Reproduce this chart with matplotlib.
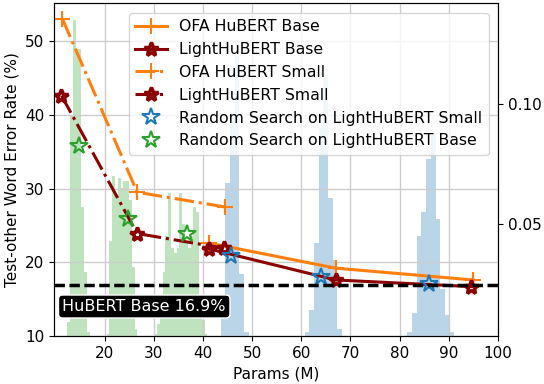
"""
Word error rate vs params for OFA / LightHuBERT supernets, with random search histograms.
"""

import matplotlib

matplotlib.use("Agg")
import matplotlib.pyplot as plt
import numpy as np

# subnet results (params in M, test-other WER in %)
ofa_base_params = [41.3, 67.0, 95.0]
ofa_base_wer = [22.6, 19.2, 17.6]
light_base_params = [41.3, 67.0, 94.6]
light_base_wer = [21.8, 17.6, 16.7]
ofa_small_params = [11.4, 26.6, 44.5]
ofa_small_wer = [53.0, 29.5, 27.5]
light_small_params = [11.2, 26.6, 44.3]
light_small_wer = [42.6, 23.9, 21.9]

# random search best subnets
rs_small_params = [45.7, 64.1, 86.0]
rs_small_wer = [20.9, 18.0, 17.1]
rs_base_params = [14.8, 24.8, 36.8]
rs_base_wer = [35.8, 25.9, 23.8]

hubert_base_wer = 16.9

# random search param histograms (density, 50 bins each)
green_range = (12.38, 40.88)
green_density = [
    0.009, 0.095, 0.135, 0.123, 0.123, 0.057, 0.030, 0.005,
    0, 0, 0, 0, 0, 0,
    0.004, 0.043, 0.070, 0.062, 0.069, 0.065, 0.068, 0.068, 0.060, 0.032, 0.006,
    0, 0, 0, 0, 0, 0,
    0.004, 0.008, 0.020, 0.030, 0.045, 0.063, 0.040, 0.038, 0.040, 0.063,
    0.050, 0.042, 0.040, 0.045, 0.057, 0.055, 0.020, 0.010, 0.004,
]
blue_range = (43.6, 91.1)
blue_density = [
    0.018, 0.067, 0.095, 0.120, 0.029, 0.005,
    0, 0, 0, 0, 0, 0, 0, 0, 0, 0, 0, 0,
    0.005, 0.014, 0.042, 0.090, 0.112, 0.061, 0.035, 0.006,
    0, 0, 0, 0, 0, 0, 0, 0, 0, 0, 0, 0, 0, 0,
    0.005, 0.013, 0.045, 0.055, 0.077, 0.088, 0.052, 0.023, 0.012, 0.005,
]

ORANGE = "#ff7f0e"
DARKRED = "#8b0000"

plt.rcParams["font.size"] = 11

fig = plt.figure(figsize=(5.44, 3.84), dpi=100)
ax = fig.add_axes([0.0993, 0.125, 0.816, 0.866])
ax2 = ax.twinx()

for density, rng, color in [
    (green_density, green_range, "#2ca02c"),
    (blue_density, blue_range, "#1f77b4"),
]:
    edges = np.linspace(rng[0], rng[1], len(density) + 1)
    ax2.bar(edges[:-1], density, width=np.diff(edges), align="edge",
            color=color, alpha=0.3, linewidth=0)

ax2.set_ylim(0.0032, 0.142)
ax2.set_yticks([0.05, 0.10])
ax2.set_yticklabels(["0.05", "0.10"])

ax.set_zorder(ax2.get_zorder() + 1)
ax.patch.set_visible(False)

plus_kw = dict(marker="+", markersize=12, markeredgewidth=1.5)
star_kw = dict(marker="*", markersize=10.5, markeredgewidth=2.5, markerfacecolor="none")

ax.plot(ofa_base_params, ofa_base_wer, "-", color=ORANGE, lw=2.2,
        label="OFA HuBERT Base", **plus_kw)
ax.plot(light_base_params, light_base_wer, "-", color=DARKRED, lw=2.2,
        label="LightHuBERT Base", **star_kw)
ax.plot(ofa_small_params, ofa_small_wer, "-.", color=ORANGE, lw=2.2,
        label="OFA HuBERT Small", **plus_kw)
ax.plot(light_small_params, light_small_wer, "-.", color=DARKRED, lw=2.2,
        label="LightHuBERT Small", **star_kw)
ax.plot(rs_small_params, rs_small_wer, ls="none", color="#1f77b4",
        marker="*", markersize=13, markeredgewidth=1.5, markerfacecolor="none",
        label="Random Search on LightHuBERT Small")
ax.plot(rs_base_params, rs_base_wer, ls="none", color="#2ca02c",
        marker="*", markersize=13, markeredgewidth=1.5, markerfacecolor="none",
        label="Random Search on LightHuBERT Base")

ax.axhline(hubert_base_wer, color="black", ls="--", lw=2.5, dashes=(3, 1.3))
ax.text(11.4, 14.0, f"HuBERT Base {hubert_base_wer}%", color="white",
        fontsize=11.5, va="center",
        bbox=dict(boxstyle="round,pad=0.25", facecolor="black", edgecolor="white"))

ax.set_xlim(9.68, 100)
ax.set_ylim(10, 55.1)
ax.set_xticks(range(20, 101, 10))
ax.set_yticks(range(10, 51, 10))
ax.grid(True, color="#cccccc", lw=1)
ax.set_axisbelow(True)

ax.set_xlabel("Params (M)")
ax.set_ylabel("Test-other Word Error Rate (%)")
ax.legend(loc="upper right", fontsize=11.3, borderaxespad=0.6)

fig.savefig("out.png", dpi=100)
